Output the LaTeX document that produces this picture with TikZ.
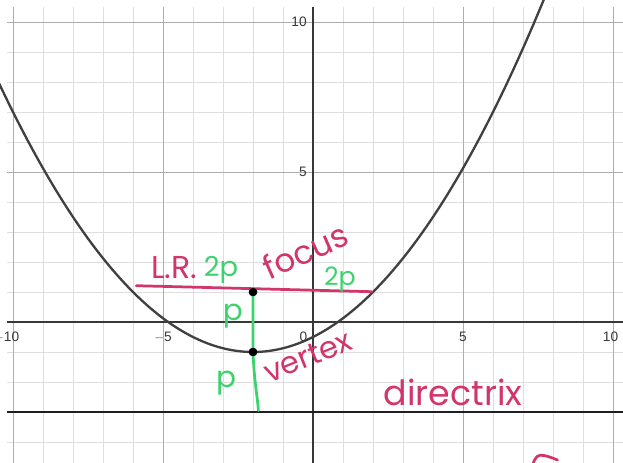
\documentclass[tikz,border=0pt]{standalone}
\usepackage{fontspec}
\setmainfont{Liberation Sans}
\newfontfamily\hand{Poppins}
\usetikzlibrary{positioning}
\definecolor{ink}{HTML}{D2356B}
\definecolor{mint}{HTML}{3DD36C}

\begin{document}
\begin{tikzpicture}[
  x=1cm, y=1cm,
  minor/.style={draw=black!13, line width=0.8pt},
  major/.style={draw=black!32, line width=0.9pt},
  axis/.style={draw=black!78, line width=1.4pt},
  tick/.style={font=\fontsize{13}{13}\selectfont, text=black!78, inner sep=1pt},
  curve/.style={draw=black!75, line width=2.2pt},
  dot/.style={circle, fill=black, inner sep=0pt, minimum size=8pt},
  inkpen/.style={draw=ink, line width=2.6pt, line cap=round},
  mintpen/.style={draw=mint, line width=2.6pt, line cap=round},
  word/.style={font=\hand\fontsize{#1}{#1}\selectfont, inner sep=0pt},
  word/.default=30
]
\useasboundingbox (-10.4333,-4.6667) rectangle (10.3333,10.7333);
\clip (-10.4333,-4.6667) rectangle (10.3333,10.7333);

% grid and axes
\draw[minor, step=1] (-10.2,-4.8) grid (10.5,10.5);
\draw[major, step=5] (-10.2,-4.8) grid (10.5,10.5);
\draw[axis] (-10.2,0) -- (10.5,0);
\draw[axis] (0,-4.8) -- (0,10.5);

\node[tick, anchor=east] (y10) at (-0.17,10) {10};
\node[tick, anchor=east] (y5) at (-0.17,5) {5};
\node[tick, anchor=east] (xm10) at (-9.75,-0.5) {$-$10};
\node[tick] (xm5) at (-5,-0.5) {$-$5};
\node[tick, anchor=east] (x0) at (-0.15,-0.5) {0};
\node[tick] (x5) at (5,-0.5) {5};
\node[tick] (x10) at (9.92,-0.5) {10};

% directrix and parabola
\draw[draw=black!88, line width=2.8pt] (-10.2,-3) -- (10.5,-3);
\draw[curve] plot[domain=-10.6:7.8, samples=120] (\x, {(\x+2)^2/8-1});

% latus rectum and axis of symmetry
\coordinate (lrl) at (-5.89,1.21);
\coordinate (lrr) at (1.96,1.01);
\coordinate (foot) at (-1.82,-2.95);
\node[dot] (focus) at (-2,1) {};
\node[dot] (vertex) at (-2,-1) {};
\draw[inkpen] (lrl) -- (lrr);
\draw[mintpen] (focus.center) -- (vertex.center)
  .. controls (-1.96,-2) and (-1.86,-2.4) .. (foot);
\node[dot] at (focus) {};
\node[dot] at (vertex) {};

% handwritten notes
\node[word=30, text=ink] (lr) at (-4.63,1.83) {L.R.};
\node[word=26, text=mint] (tp1) at (-3.07,1.72) {2p};
\node[word=31, text=ink, rotate=24] (foc) at (-0.25,2.38) {focus};
\node[word=24, text=mint] (tp2) at (0.9,1.42) {2p};
\node[word=28, text=mint] (p1) at (-2.67,0.2) {p};
\node[word=28, text=mint] (p2) at (-2.9,-2.05) {p};
\node[word=29, text=ink, rotate=22] (vtx) at (-0.17,-1.15) {vertex};
\node[word=33, text=ink] (dir) at (4.67,-2.35) {directrix};
\draw[inkpen] (7.33,-4.75) .. controls (7.4,-4.5) and (7.5,-4.4) .. (7.7,-4.45)
  .. controls (7.9,-4.5) .. (8.15,-4.6);
\end{tikzpicture}
\end{document}
